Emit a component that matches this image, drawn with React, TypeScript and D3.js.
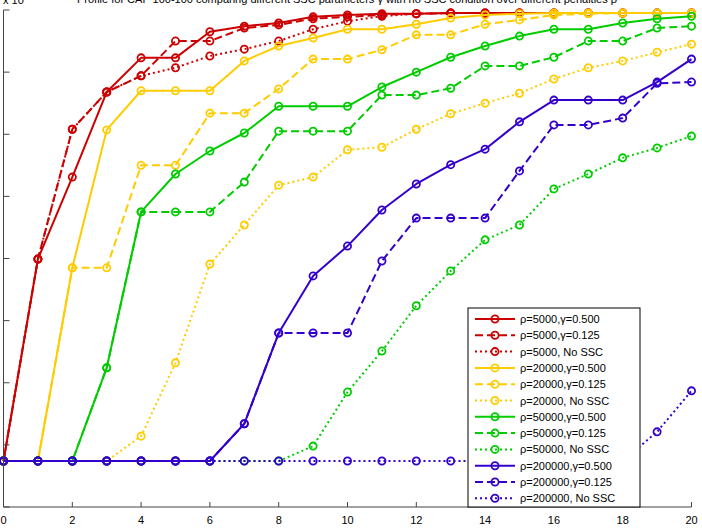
import React from "react";
import * as d3 from "d3";

// Iterations (x axis)
const iterations = [0, 1, 2, 3, 4, 5, 6, 7, 8, 9, 10, 11, 12, 13, 14, 15, 16, 17, 18, 19, 20];
const xTicks = [0, 2, 4, 6, 8, 10, 12, 14, 16, 18, 20];
const yTicks = [0, 1, 2, 3, 4, 5, 6, 7, 8];

// Series values (in y-axis tick units)
const rho5000_g500 = [0.74, 3.99, 5.31, 6.68, 7.23, 7.23, 7.65, 7.74, 7.79, 7.89, 7.92, 7.94, 7.94, 7.95, 7.95, 7.95, 7.95, 7.95, 7.95, 7.95, 7.95];
const rho5000_g125 = [0.74, 3.99, 6.08, 6.68, 6.94, 7.5, 7.5, 7.71, 7.76, 7.86, 7.89, 7.92, 7.94, 7.95, 7.95, 7.95, 7.95, 7.95, 7.95, 7.95, 7.95];
const rho5000_none = [0.74, 3.99, 6.08, 6.68, 6.94, 7.07, 7.26, 7.37, 7.5, 7.69, 7.82, 7.9, 7.94, 7.95, 7.95, 7.95, 7.95, 7.95, 7.95, 7.95, 7.95];
const rho20000_g500 = [0.74, 0.74, 3.85, 6.07, 6.7, 6.7, 6.7, 7.18, 7.42, 7.55, 7.69, 7.69, 7.77, 7.87, 7.92, 7.94, 7.95, 7.95, 7.95, 7.95, 7.95];
const rho20000_g125 = [0.74, 0.74, 3.85, 3.85, 5.5, 5.5, 6.34, 6.34, 6.73, 7.21, 7.21, 7.36, 7.6, 7.6, 7.77, 7.84, 7.92, 7.94, 7.95, 7.95, 7.95];
const rho20000_none = [0.74, 0.74, 0.74, 0.74, 1.14, 2.32, 3.91, 4.54, 5.18, 5.31, 5.75, 5.79, 6.08, 6.33, 6.5, 6.66, 6.89, 7.07, 7.18, 7.32, 7.45];
const rho50000_g500 = [0.74, 0.74, 0.74, 2.24, 4.75, 5.36, 5.73, 6.02, 6.45, 6.45, 6.45, 6.76, 7.0, 7.24, 7.42, 7.58, 7.69, 7.69, 7.79, 7.86, 7.9];
const rho50000_g125 = [0.74, 0.74, 0.74, 2.24, 4.75, 4.75, 4.75, 5.23, 6.05, 6.05, 6.05, 6.63, 6.63, 6.74, 7.1, 7.1, 7.24, 7.5, 7.5, 7.71, 7.74];
const rho50000_none = [0.74, 0.74, 0.74, 0.74, 0.74, 0.74, 0.74, 0.74, 0.74, 0.98, 1.85, 2.51, 3.24, 3.8, 4.3, 4.54, 5.12, 5.36, 5.62, 5.78, 5.97];
const rho200000_g500 = [0.74, 0.74, 0.74, 0.74, 0.74, 0.74, 0.74, 1.34, 2.8, 3.72, 4.2, 4.78, 5.2, 5.51, 5.76, 6.2, 6.55, 6.55, 6.55, 6.84, 7.21];
const rho200000_g125 = [0.74, 0.74, 0.74, 0.74, 0.74, 0.74, 0.74, 1.34, 2.8, 2.8, 2.8, 3.96, 4.65, 4.65, 4.65, 5.41, 6.15, 6.15, 6.26, 6.82, 6.84];
const rho200000_none = [0.74, 0.74, 0.74, 0.74, 0.74, 0.74, 0.74, 0.74, 0.74, 0.74, 0.74, 0.74, 0.74, 0.74, 0.74, 0.74, 0.74, 0.74, 0.74, 1.21, 1.87];

const labels = [
  "ρ=5000,γ=0.500", "ρ=5000,γ=0.125", "ρ=5000, No SSC",
  "ρ=20000,γ=0.500", "ρ=20000,γ=0.125", "ρ=20000, No SSC",
  "ρ=50000,γ=0.500", "ρ=50000,γ=0.125", "ρ=50000, No SSC",
  "ρ=200000,γ=0.500", "ρ=200000,γ=0.125", "ρ=200000, No SSC",
];
const valuesList = [
  rho5000_g500, rho5000_g125, rho5000_none,
  rho20000_g500, rho20000_g125, rho20000_none,
  rho50000_g500, rho50000_g125, rho50000_none,
  rho200000_g500, rho200000_g125, rho200000_none,
];
const colors = ["#cc0000", "#ffcc00", "#00cc00", "#3300cc"];
const dashes = [null, "8,4", "2,3"];

const title = "Profile for CAP 100-100 comparing different SSC parameters γ with no SSC condition over different penalties ρ";

const W = 702, H = 528;
const FONT = "'Liberation Sans', Arial, Helvetica, sans-serif";

export default function App() {
  const x = d3.scaleLinear().domain([0, 20]).range([3.5, 691.5]);
  const y = d3.scaleLinear().domain([0, 8]).range([507, 10]);
  const line = d3.line<[number, number]>().x(d => x(d[0])).y(d => y(d[1]));

  const series = valuesList.map((vals, i) => ({
    label: labels[i],
    color: colors[Math.floor(i / 3)],
    dash: dashes[i % 3],
    pts: iterations.map((it, j) => [it, vals[j]] as [number, number]),
  }));

  const lx0 = 468, ly0 = 308, lx1 = 640, ly1 = 507;
  const rowY = (i: number) => 319 + i * 16.3;

  return (
    <svg width={W} height={H} style={{ position: "absolute", left: 0, top: 0, background: "#fff" }} fontFamily={FONT}>
      <rect x={0} y={0} width={W} height={H} fill="#fff" />
      {/* title (cropped at the top) */}
      <text x={347} y={3} fontSize={11} textAnchor="middle" fill="#000">{title}</text>
      <text x={3} y={4} fontSize={11} fill="#000">x 10</text>

      {/* series */}
      {series.map((s, i) => (
        <g key={i}>
          <path d={line(s.pts) || ""} fill="none" stroke={s.color} strokeWidth={2}
            strokeDasharray={s.dash || undefined} strokeLinejoin="round" />
          {s.pts.map((p, j) => (
            <circle key={j} cx={x(p[0])} cy={y(p[1])} r={3.6} fill="none" stroke={s.color} strokeWidth={1.8} />
          ))}
        </g>
      ))}

      {/* axes */}
      <g stroke="#444" strokeWidth={1} fill="none">
        <line x1={x(0)} x2={x(20)} y1={y(0)} y2={y(0)} />
        <line x1={x(0)} x2={x(0)} y1={y(0)} y2={y(8)} />
        {xTicks.map(t => (
          <line key={"xt" + t} x1={x(t)} x2={x(t)} y1={y(0)} y2={y(0) - 5} />
        ))}
        {yTicks.map(t => (
          <line key={"yt" + t} x1={x(0)} x2={x(0) + 6} y1={y(t)} y2={y(t)} />
        ))}
      </g>
      {xTicks.map(t => (
        <text key={"xl" + t} x={x(t)} y={524} fontSize={11} textAnchor="middle" fill="#000">{t}</text>
      ))}

      {/* legend */}
      <rect x={lx0} y={ly0} width={lx1 - lx0} height={ly1 - ly0} fill="#fff" stroke="#000" strokeWidth={1} />
      {series.map((s, i) => (
        <g key={"lg" + i}>
          <line x1={475} x2={515} y1={rowY(i)} y2={rowY(i)} stroke={s.color} strokeWidth={2}
            strokeDasharray={s.dash || undefined} />
          <circle cx={495} cy={rowY(i)} r={3.6} fill="none" stroke={s.color} strokeWidth={1.8} />
          <text x={520} y={rowY(i) + 4} fontSize={11} fill="#000">{s.label}</text>
        </g>
      ))}
    </svg>
  );
}
